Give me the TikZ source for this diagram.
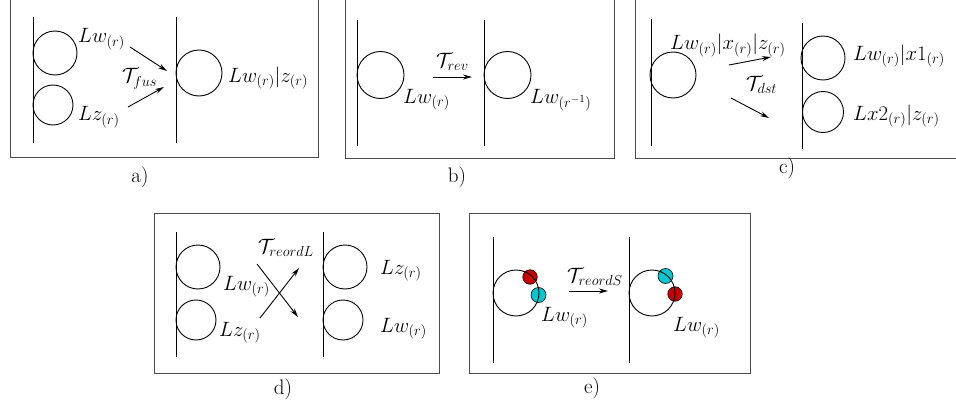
\documentclass[tikz,border=0pt]{standalone}
\usetikzlibrary{arrows.meta}
\begin{document}
\begin{tikzpicture}[x=1pt,y=-1pt,
  panel/.style={draw=black!70,line width=1pt},
  wall/.style={line width=0.9pt},
  ring/.style={draw,circle,inner sep=0pt,line width=0.9pt},
  lbl/.style={anchor=base west,inner sep=0pt,font=\fontsize{21}{25}\selectfont},
  captxt/.style={anchor=base,inner sep=0pt,font=\fontsize{21}{25}\selectfont},
  arr/.style={line width=0.9pt,-{Stealth[length=9pt,width=5pt]}},
  reddot/.style={circle,inner sep=0pt,minimum size=14.5pt,fill={rgb,255:red,200;green,0;blue,0},draw=black,line width=0.6pt},
  cyandot/.style={circle,inner sep=0pt,minimum size=15pt,fill={rgb,255:red,0;green,200;blue,210},draw=black,line width=0.6pt}]
\useasboundingbox (0,0) rectangle (956,404);
\clip (0,0) rectangle (956,404);
\fill[white] (0,0) rectangle (956,404);

% ---------- panel a ----------
\draw[panel] (10,-3) rectangle (318,157);
\node[captxt] (capa) at (140,182) {a)};
\draw[wall] (33,17) -- (33,143);
\draw[wall] (176,17) -- (176,143);
\node[ring,minimum size=44pt] (a1) at (55,53) {};
\node[ring,minimum size=40pt] (a2) at (53,105) {};
\node[ring,minimum size=46pt] (a3) at (199,73) {};
\node[lbl] (la1) at (78,43) {$Lw_{(r)}$};
\node[lbl] (la2) at (78,121) {$Lz_{(r)}$};
\node[lbl] (la3) at (228,82) {$Lw_{(r)}|z_{(r)}$};
\node[lbl] (ta) at (122,83) {$\mathcal{T}_{fus}$};
\coordinate (a1s) at (130,47); \coordinate (a1e) at (167,71);
\coordinate (a2s) at (128,107); \coordinate (a2e) at (164,87);
\draw[arr] (a1s) -- (a1e);
\draw[arr] (a2s) -- (a2e);

% ---------- panel b ----------
\draw[panel] (345,-3) rectangle (614,158);
\node[captxt] (capb) at (457,182) {b)};
\draw[wall] (357,20) -- (357,146);
\draw[wall] (484,20) -- (484,146);
\node[ring,minimum size=47pt] (b1) at (380.5,75) {};
\node[ring,minimum size=47pt] (b2) at (507.5,75) {};
\node[lbl] (lb1) at (403,103) {$Lw_{(r)}$};
\node[lbl] (lb2) at (530,103) {$Lw_{(r^{-1})}$};
\node[lbl] (tb) at (436,67) {$\mathcal{T}_{rev}$};
\coordinate (bs) at (433,77); \coordinate (be) at (472,77);
\draw[arr] (bs) -- (be);

% ---------- panel c ----------
\draw[panel] (635,-3) rectangle (962,158);
\node[captxt] (capc) at (787,173) {c)};
\draw[wall] (651,19) -- (651,146);
\draw[wall] (802,23) -- (802,149);
\node[ring,minimum size=46pt] (c1) at (673,75) {};
\node[ring,minimum size=44pt] (c2) at (823,58) {};
\node[ring,minimum size=41pt] (c3) at (823,112) {};
\node[lbl] (lc1) at (670,50) {$Lw_{(r)}|x_{(r)}|z_{(r)}$};
\node[lbl] (lc2) at (853,60) {$Lw_{(r)}|x1_{(r)}$};
\node[lbl] (lc3) at (853,120) {$Lx2_{(r)}|z_{(r)}$};
\node[lbl] (tc) at (746,90) {$\mathcal{T}_{dst}$};
\coordinate (c1s) at (729,65); \coordinate (c1e) at (771,57);
\coordinate (c2s) at (731,98); \coordinate (c2e) at (769,118);
\draw[arr] (c1s) -- (c1e);
\draw[arr] (c2s) -- (c2e);

% ---------- panel d ----------
\draw[panel] (154,213) rectangle (439,373);
\node[captxt] (capd) at (283,394) {d)};
\draw[wall] (176,232) -- (176,357);
\draw[wall] (323,232) -- (323,357);
\node[ring,minimum size=44pt] (d1) at (198,267) {};
\node[ring,minimum size=40pt] (d2) at (196,320) {};
\node[ring,minimum size=44pt] (d3) at (345,267) {};
\node[ring,minimum size=40pt] (d4) at (343,320) {};
\node[lbl] (ld1) at (223,290) {$Lw_{(r)}$};
\node[lbl] (ld2) at (219,336) {$Lz_{(r)}$};
\node[lbl] (ld3) at (380,274) {$Lz_{(r)}$};
\node[lbl] (ld4) at (380,332) {$Lw_{(r)}$};
\node[lbl] (td) at (258,253) {$\mathcal{T}_{reordL}$};
\coordinate (d1s) at (260,318); \coordinate (d1e) at (299,268);
\coordinate (d2s) at (257,264); \coordinate (d2e) at (298,317);
\draw[arr] (d1s) -- (d1e);
\draw[arr] (d2s) -- (d2e);

% ---------- panel e ----------
\draw[panel] (469,213) rectangle (750,373);
\node[captxt] (cape) at (592,393) {e)};
\draw[wall] (493,237) -- (493,363);
\draw[wall] (629,237) -- (629,363);
\node[reddot] (er1) at (530,277) {};
\node[cyandot] (ec1) at (538.5,295) {};
\node[cyandot] (ec2) at (665.5,276) {};
\node[reddot] (er2) at (675,294) {};
\node[ring,minimum size=46pt] (e1) at (516,293) {};
\node[ring,minimum size=46pt] (e2) at (652,293) {};
\node[lbl] (le1) at (541,321) {$Lw_{(r)}$};
\node[lbl] (le2) at (673,331) {$Lw_{(r)}$};
\node[lbl] (te) at (567,282) {$\mathcal{T}_{reordS}$};
\coordinate (es) at (569,291); \coordinate (ee) at (608,291);
\draw[arr] (es) -- (ee);
\end{tikzpicture}
\end{document}
